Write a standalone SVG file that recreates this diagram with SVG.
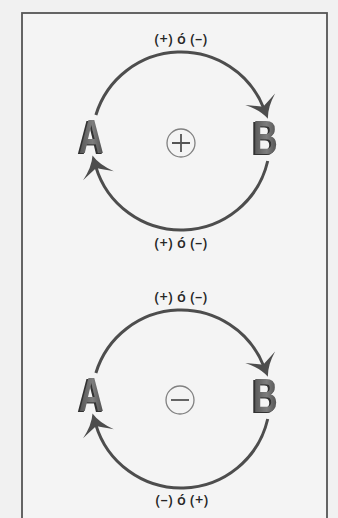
<svg xmlns="http://www.w3.org/2000/svg" width="338" height="518" viewBox="0 0 338 518">
  <defs>
    <style>
      .arc { fill: none; stroke: #4d4d4d; stroke-width: 3; marker-end: url(#barb); }
      .lbl { font-family: "Open Sans", "Liberation Sans", sans-serif; font-weight: 600; font-size: 14.5px; fill: #262626; text-anchor: middle; letter-spacing: 0.3px; }
      .sign-ring { fill: none; stroke: #808080; stroke-width: 1.3; }
      .sign { stroke: #555; stroke-width: 1.8; fill: none; }
      .letter { font-family: "Liberation Sans", Arial, sans-serif; font-weight: 700; font-size: 49px; fill: url(#face); filter: url(#extrude); }
    </style>
    <linearGradient id="face" x1="0" y1="0" x2="1" y2="0">
      <stop offset="0" stop-color="#555"/>
      <stop offset="0.55" stop-color="#7d7d7d"/>
      <stop offset="1" stop-color="#505050"/>
    </linearGradient>
    <filter id="extrude" x="-20%" y="-20%" width="140%" height="140%">
      <feOffset in="SourceAlpha" dx="-1.2" dy="0.6" result="o1"/>
      <feOffset in="SourceAlpha" dx="-2.4" dy="1.2" result="o2"/>
      <feMerge result="m"><feMergeNode in="o1"/><feMergeNode in="o2"/></feMerge>
      <feFlood flood-color="#333"/>
      <feComposite operator="in" in2="m" result="side"/>
      <feMerge><feMergeNode in="side"/><feMergeNode in="SourceGraphic"/></feMerge>
    </filter>
    <marker id="barb" viewBox="-20 -20 40 40" markerWidth="40" markerHeight="40" refX="0" refY="0" orient="auto" markerUnits="userSpaceOnUse" overflow="visible">
      <path d="M11,0 Q0,-4 -10,-16 Q-5,-6 -2,0 Q-5,6 -10,16 Q0,4 11,0 Z" fill="#4d4d4d"/>
    </marker>
  </defs>

  <rect x="0" y="0" width="338" height="518" fill="#f1f1f1"/>
  <rect id="frame" x="22" y="13" width="305" height="520" fill="#f4f4f4" stroke="#555" stroke-width="1.8"/>

  <!-- Top diagram: positive loop -->
  <g id="loop-positive">
    <g id="connectors-positive">
      <path class="arc" d="M95.89,114.98 A89,89 0 0 1 263.86,108.53"/>
      <path class="arc" d="M267.72,161.02 A89,89 0 0 1 95.62,166.13"/>
    </g>
    <g id="node-A1">
      <text class="letter" transform="translate(79,153) scale(0.7,1)">A</text>
    </g>
    <g id="node-B1">
      <text class="letter" transform="translate(253,154) scale(0.7,1)">B</text>
    </g>
    <g id="sign-plus">
      <circle class="sign-ring" cx="181" cy="143" r="14"/>
      <path class="sign" d="M172,143 H190 M181,134 V152"/>
    </g>
    <g id="label-top-1"><text class="lbl" x="181" y="44">(+) ó (–)</text></g>
    <g id="label-bottom-1"><text class="lbl" x="181" y="248">(+) ó (–)</text></g>
  </g>

  <!-- Bottom diagram: negative loop -->
  <g id="loop-negative" transform="translate(0,258)">
    <g id="connectors-negative">
      <path class="arc" d="M95.89,114.98 A89,89 0 0 1 263.86,108.53"/>
      <path class="arc" d="M267.72,161.02 A89,89 0 0 1 95.62,166.13"/>
    </g>
    <g id="node-A2">
      <text class="letter" transform="translate(79,153) scale(0.7,1)">A</text>
    </g>
    <g id="node-B2">
      <text class="letter" transform="translate(253,154) scale(0.7,1)">B</text>
    </g>
    <g id="sign-minus">
      <circle class="sign-ring" cx="180" cy="142" r="14"/>
      <path class="sign" d="M171,142 H189"/>
    </g>
    <g id="label-top-2"><text class="lbl" x="181" y="44">(+) ó (–)</text></g>
    <g id="label-bottom-2"><text class="lbl" x="182" y="247">(–) ó (+)</text></g>
  </g>
</svg>
